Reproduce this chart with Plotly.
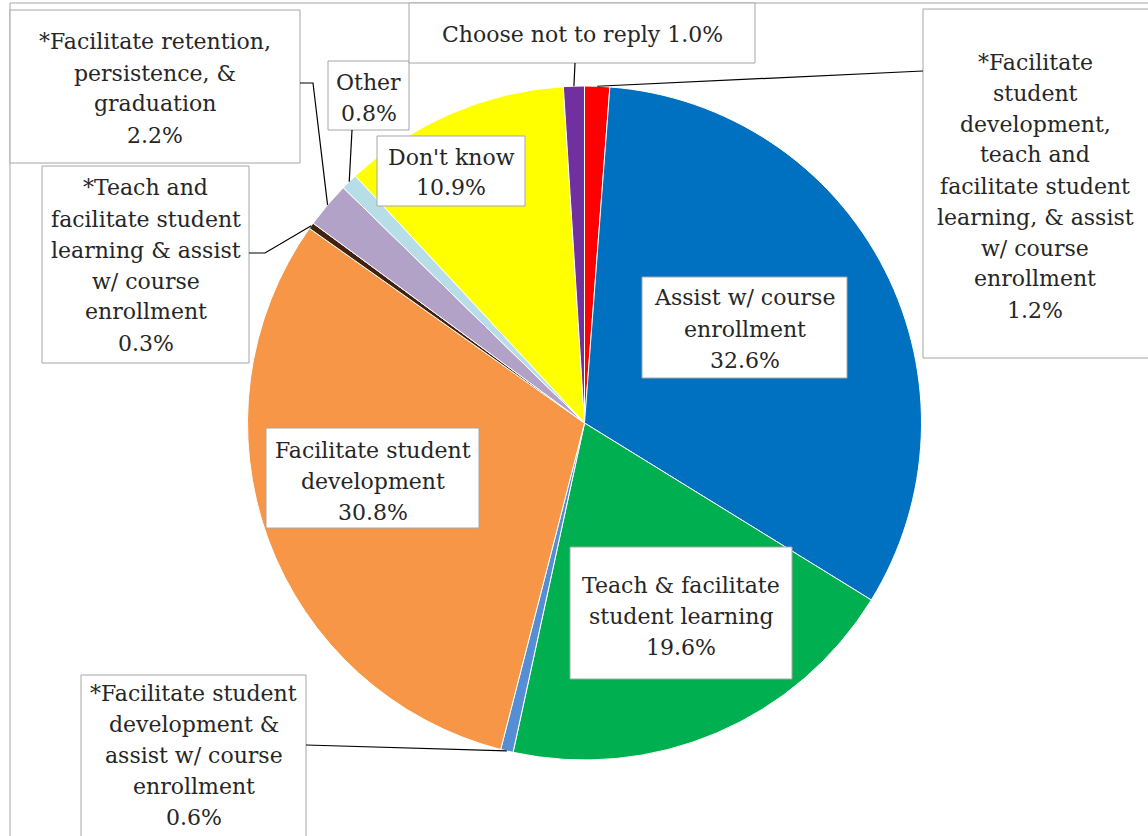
import math
import plotly.graph_objects as go

W, H = 1148, 836

# ---- data (clockwise from 12 o'clock) ----
categories = [
    "*Facilitate student development, teach and facilitate student learning, & assist w/ course enrollment",
    "Assist w/ course enrollment",
    "Teach & facilitate student learning",
    "*Facilitate student development & assist w/ course enrollment",
    "Facilitate student development",
    "*Teach and facilitate student learning & assist w/ course enrollment",
    "*Facilitate retention, persistence, & graduation",
    "Other",
    "Don't know",
    "Choose not to reply",
]
values = [1.2, 32.6, 19.6, 0.6, 30.8, 0.3, 2.2, 0.8, 10.9, 1.0]
colors = ["#FF0000", "#0070C0", "#00B050", "#558ED5", "#F79646",
          "#40230F", "#B3A2C7", "#B7DEE8", "#FFFF00", "#7030A0"]
label_lines = [
    ["*Facilitate", "student", "development,", "teach and", "facilitate student",
     "learning, & assist", "w/ course", "enrollment"],
    ["Assist w/ course", "enrollment"],
    ["Teach & facilitate", "student learning"],
    ["*Facilitate student", "development &", "assist w/ course", "enrollment"],
    ["Facilitate student", "development"],
    ["*Teach and", "facilitate student", "learning & assist", "w/ course", "enrollment"],
    ["*Facilitate retention,", "persistence, &", "graduation"],
    ["Other"],
    ["Don't know"],
    ["Choose not to reply"],
]
pct_same_line = [False, False, False, False, False, False, False, False, False, True]

# ---- layout constants (pixels) ----
CX, CY, R = 584.5, 423.0, 337.0
LINE = 31.0
# label boxes: x0, y0, x1, y1, first line centre y
boxes = [
    (923, 9, 1150, 358, 62),
    (642, 277, 847, 378, 298),
    (570, 547, 792, 679, 585),
    (81, 675, 306, 860, 693),
    (266, 428, 479, 528, 450),
    (42, 166, 249, 363, 188),
    (10, 10, 300, 163, 42),
    (328, 61, 409, 130, 82),
    (377, 136, 525, 206, 157),
    (409, 3, 755, 63, 34),
]
# leader lines: list of points starting at the box edge (None = no leader)
leaders = [
    [(923, 71)],
    None,
    None,
    [(306, 745)],
    None,
    [(249, 253), (265, 253)],
    [(300, 83), (313, 83)],
    [(352, 130)],
    None,
    [(575, 63)],
]


def px(x):
    return x / W


def py(y):
    return 1 - y / H


fig = go.Figure(go.Pie(
    labels=categories,
    values=values,
    sort=False,
    direction="clockwise",
    rotation=0,
    marker=dict(colors=colors, line=dict(color="#FFFFFF", width=1)),
    textinfo="none",
    hoverinfo="label+percent",
    showlegend=False,
    domain=dict(x=[px(CX - R), px(CX + R)], y=[py(CY + R), py(CY - R)]),
))

shapes = []
annotations = []

# outer chart border
shapes.append(dict(type="rect", xref="paper", yref="paper",
                   x0=px(10), x1=px(1300), y0=py(3), y1=py(1000),
                   line=dict(color="#A6A6A6", width=1), layer="below"))

total = sum(values)
cum = 0.0
for i, v in enumerate(values):
    mid = (cum + v / 2) / total
    cum += v
    ang = 2 * math.pi * mid
    ax = CX + R * math.sin(ang)
    ay = CY - R * math.cos(ang)

    x0, y0, x1, y1, ly = boxes[i]
    shapes.append(dict(type="rect", xref="paper", yref="paper",
                       x0=px(x0), x1=px(x1), y0=py(y0), y1=py(y1),
                       fillcolor="white", line=dict(color="#A6A6A6", width=1),
                       layer="above"))
    if leaders[i]:
        pts = leaders[i] + [(ax, ay)]
        path = "M " + " L ".join(f"{px(a):.5f},{py(b):.5f}" for a, b in pts)
        shapes.append(dict(type="path", xref="paper", yref="paper", path=path,
                           line=dict(color="#000000", width=1.2)))

    pct = f"{v:.1f}%"
    lines = list(label_lines[i])
    if pct_same_line[i]:
        lines[-1] = lines[-1] + " " + pct
    else:
        lines.append(pct)
    xc = (x0 + min(x1, 1147)) / 2
    for k, t in enumerate(lines):
        annotations.append(dict(
            x=px(xc), y=py(ly + k * LINE), xref="paper", yref="paper",
            text=t, showarrow=False, xanchor="center", yanchor="middle",
            font=dict(family="DejaVu Serif", size=22, color="#262626"),
        ))

fig.update_layout(
    width=W, height=H,
    margin=dict(l=0, r=0, t=0, b=0),
    paper_bgcolor="white",
    plot_bgcolor="white",
    shapes=shapes,
    annotations=annotations,
)

fig.write_html("out.html")
